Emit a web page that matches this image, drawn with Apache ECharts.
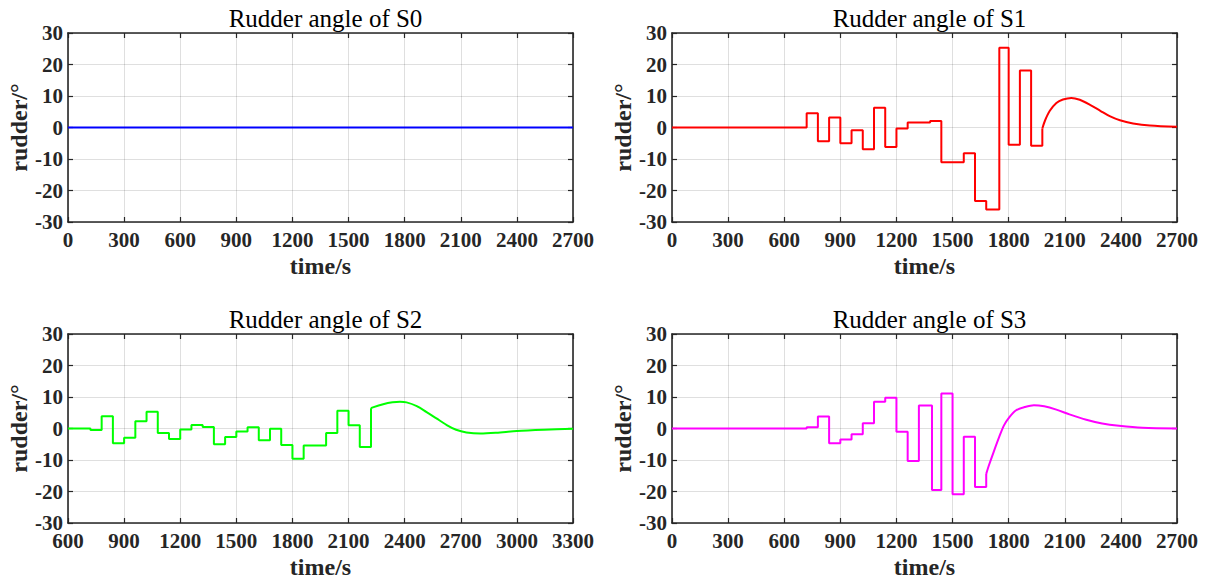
<!DOCTYPE html>
<html>
<head>
<meta charset="utf-8">
<title>Rudder angle</title>
<script src="https://cdn.jsdelivr.net/npm/echarts@6/dist/echarts.min.js"></script>
<style>
  html, body { margin: 0; padding: 0; background: #fff; }
  .chart { width: 1208px; height: 585px; }
</style>
</head>
<body>
<div class="chart"></div>
<script>
// 数据：每段阶跃的起始时间和舵角，以及后面平滑部分的采样点
var yTicks = [-30, -20, -10, 0, 10, 20, 30];
var xTicksA = [0, 300, 600, 900, 1200, 1500, 1800, 2100, 2400, 2700];
var xTicksB = [600, 900, 1200, 1500, 1800, 2100, 2400, 2700, 3000, 3300];

var s0Time = [0, 2700];
var s0Steps = [0, 0];

var s1Time = [0, 720, 780, 840, 900, 960, 1020, 1080, 1140, 1200, 1260, 1380, 1440, 1560, 1620, 1680, 1750, 1800, 1860, 1920, 1980];
var s1Steps = [0, 4.5, -4.4, 3.2, -5, -0.9, -6.9, 6.3, -6.2, -0.3, 1.6, 2.1, -11, -8.2, -23.3, -26, 25.3, -5.5, 18.1, -5.8, -0.3];
var s1TailTime = [1980, 1995, 2020, 2055, 2090, 2135, 2180, 2235, 2290, 2340, 2395, 2465, 2555, 2700];
var s1Tail = [-0.3, 2.3, 5.3, 7.8, 8.9, 9.4, 8.8, 7.2, 5.3, 3.6, 2.3, 1.3, 0.6, 0.2];

var s2Time = [600, 720, 780, 840, 900, 960, 1020, 1080, 1140, 1200, 1260, 1320, 1380, 1440, 1500, 1560, 1620, 1680, 1740, 1800, 1860, 1980, 2040, 2100, 2160, 2220];
var s2Steps = [0, -0.5, 3.9, -4.7, -2.9, 2.3, 5.3, -1.4, -3.3, -0.3, 1.1, 0.5, -5, -2.7, -0.95, 0.4, -3.7, -0.1, -5.2, -9.6, -5.4, -1.4, 5.6, 1.0, -5.9, 6.4];
var s2TailTime = [2220, 2230, 2285, 2335, 2375, 2410, 2465, 2515, 2570, 2625, 2675, 2730, 2805, 2890, 3000, 3145, 3300];
var s2Tail = [6.4, 6.7, 7.7, 8.3, 8.5, 8.3, 7.1, 5.3, 3.2, 1.1, -0.4, -1.25, -1.6, -1.35, -0.8, -0.4, -0.1];

var s3Time = [0, 720, 780, 840, 900, 960, 1020, 1080, 1140, 1200, 1260, 1320, 1390, 1440, 1500, 1560, 1620, 1680];
var s3Steps = [0, 0.4, 3.8, -4.7, -3.5, -1.8, 1.7, 8.5, 9.75, -1.06, -10.3, 7.3, -19.5, 11.1, -20.9, -2.65, -18.6, -14.4];
var s3TailTime = [1680, 1695, 1720, 1750, 1775, 1805, 1840, 1885, 1935, 1990, 2055, 2125, 2215, 2300, 2390, 2515, 2700];
var s3Tail = [-14.4, -11.6, -7.4, -2.6, 1.0, 3.7, 5.8, 6.8, 7.4, 7.05, 6.0, 4.5, 2.8, 1.6, 0.85, 0.2, 0];

(function() {
  var myChart = echarts.init(document.querySelector(".chart"), null, { renderer: "svg" });

  var font = "'Liberation Serif', 'Times New Roman', serif";
  var ink = "#262626";

  // 四个子图的位置
  var panels = [
    { left: 68, top: 33, name: "Rudder angle of S0", color: "#0000ff", xTicks: xTicksA,
      time: s0Time, steps: s0Steps, tailTime: [], tail: [] },
    { left: 672, top: 33, name: "Rudder angle of S1", color: "#ff0000", xTicks: xTicksA,
      time: s1Time, steps: s1Steps, tailTime: s1TailTime, tail: s1Tail },
    { left: 68, top: 334, name: "Rudder angle of S2", color: "#00ff00", xTicks: xTicksB,
      time: s2Time, steps: s2Steps, tailTime: s2TailTime, tail: s2Tail },
    { left: 672, top: 334, name: "Rudder angle of S3", color: "#ff00ff", xTicks: xTicksA,
      time: s3Time, steps: s3Steps, tailTime: s3TailTime, tail: s3Tail },
  ];
  var W = 505;
  var H = 189;

  function pairs(t, v) {
    return t.map(function(x, i) {
      return [x, v[i]];
    });
  }

  // 不要千位分隔符
  function plain(v) {
    return String(v);
  }

  var option = {
    backgroundColor: "#fff",
    animation: false,
    title: [],
    grid: [],
    xAxis: [],
    yAxis: [],
    series: [],
  };

  panels.forEach(function(p, i) {
    var xMin = p.xTicks[0];
    var xMax = p.xTicks[p.xTicks.length - 1];

    option.title.push({
      text: p.name,
      left: p.left + W / 2,
      top: p.top - 32,
      textAlign: "center",
      textStyle: { fontFamily: font, fontSize: 25, fontWeight: "normal", color: "#000" },
    });

    option.grid.push({ left: p.left, top: p.top, width: W, height: H });

    // 下方 x 轴
    option.xAxis.push({
      type: "value",
      gridIndex: i,
      min: xMin,
      max: xMax,
      interval: 300,
      name: "time/s",
      nameLocation: "middle",
      nameGap: 32,
      nameTextStyle: { fontFamily: font, fontSize: 24, fontWeight: "bold", color: ink },
      axisLine: { onZero: false, lineStyle: { color: ink, width: 1.6 } },
      axisTick: { inside: true, length: 5, lineStyle: { color: ink, width: 1.2 } },
      axisLabel: { margin: 7, formatter: plain, fontFamily: font, fontSize: 21, fontWeight: "bold", color: ink },
      splitLine: { show: true, lineStyle: { color: "rgba(38,38,38,0.15)", width: 1 } },
    });
    // 上方框线和刻度
    option.xAxis.push({
      type: "value",
      gridIndex: i,
      position: "top",
      min: xMin,
      max: xMax,
      interval: 300,
      axisLine: { onZero: false, lineStyle: { color: ink, width: 1.6 } },
      axisTick: { inside: true, length: 5, lineStyle: { color: ink, width: 1.2 } },
      axisLabel: { show: false },
      splitLine: { show: false },
    });

    // 左侧 y 轴
    option.yAxis.push({
      type: "value",
      gridIndex: i,
      min: yTicks[0],
      max: yTicks[yTicks.length - 1],
      interval: 10,
      name: "rudder/°",
      nameLocation: "middle",
      nameGap: 34,
      nameTextStyle: { fontFamily: font, fontSize: 24, fontWeight: "bold", color: ink },
      axisLine: { onZero: false, lineStyle: { color: ink, width: 1.6 } },
      axisTick: { inside: true, length: 5, lineStyle: { color: ink, width: 1.2 } },
      axisLabel: { margin: 5, formatter: plain, fontFamily: font, fontSize: 21, fontWeight: "bold", color: ink },
      splitLine: { show: true, lineStyle: { color: "rgba(38,38,38,0.15)", width: 1 } },
    });
    // 右侧框线和刻度
    option.yAxis.push({
      type: "value",
      gridIndex: i,
      position: "right",
      min: yTicks[0],
      max: yTicks[yTicks.length - 1],
      interval: 10,
      axisLine: { onZero: false, lineStyle: { color: ink, width: 1.6 } },
      axisTick: { inside: true, length: 5, lineStyle: { color: ink, width: 1.2 } },
      axisLabel: { show: false },
      splitLine: { show: false },
    });

    // 阶跃部分
    option.series.push({
      type: "line",
      xAxisIndex: i * 2,
      yAxisIndex: i * 2,
      step: "end",
      symbol: "none",
      data: pairs(p.time, p.steps),
      lineStyle: { color: p.color, width: 2 },
    });
    // 平滑部分
    if (p.tail.length) {
      option.series.push({
        type: "line",
        xAxisIndex: i * 2,
        yAxisIndex: i * 2,
        smooth: 0.3,
        symbol: "none",
        data: pairs(p.tailTime, p.tail),
        lineStyle: { color: p.color, width: 2 },
      });
    }
  });

  myChart.setOption(option);
  window.addEventListener("resize", function() {
    myChart.resize();
  });
})();
</script>
</body>
</html>
